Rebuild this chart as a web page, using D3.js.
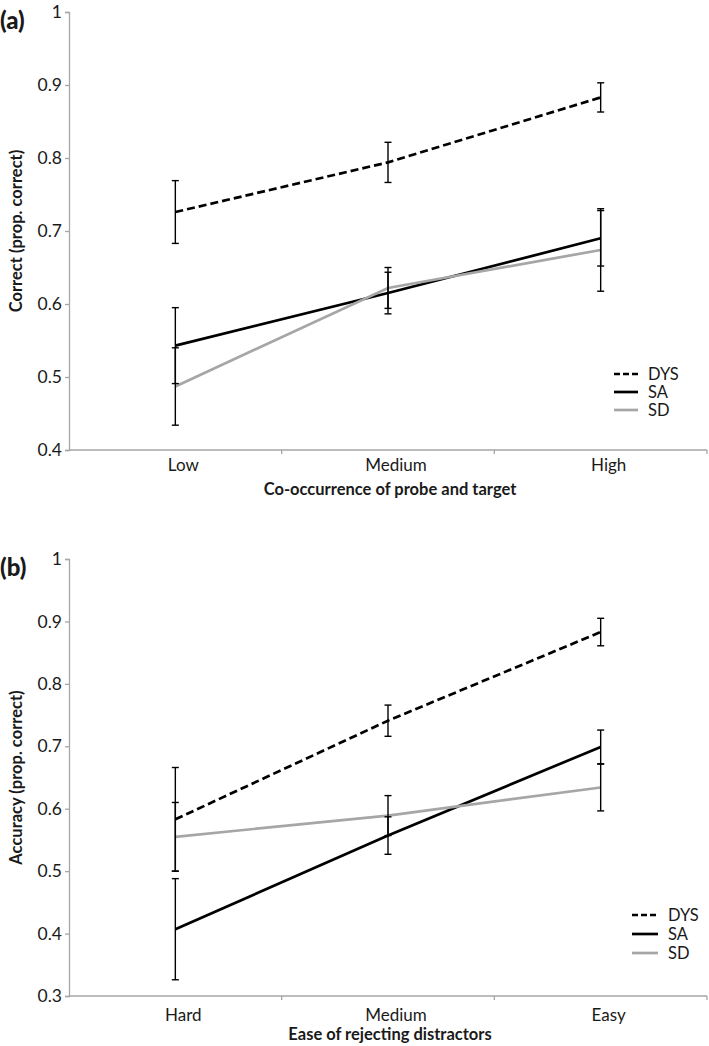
<!DOCTYPE html>
<html>
<head>
<meta charset="utf-8">
<script src="https://cdn.jsdelivr.net/npm/d3@7"></script>
<style>
  html, body { margin: 0; padding: 0; background: #fff; }
  svg { display: block; }
  text { font-family: Lato, "Open Sans", sans-serif; fill: #1a1a1a; }
</style>
</head>
<body>
<svg id="chart" width="709" height="1046"></svg>
<script>
// ---------- Panel (a) data ----------
const categoriesA = ["Low", "Medium", "High"];
const dysA = [0.726, 0.794, 0.883];
const dysErrA = [0.043, 0.0275, 0.020];
const saA = [0.543, 0.615, 0.690];
const saErrA = [0.052, 0.0285, 0.038];
const sdA = [0.487, 0.622, 0.674];
const sdErrA = [0.053, 0.028, 0.0565];
const yTicksA = [0.4, 0.5, 0.6, 0.7, 0.8, 0.9, 1];
const yTickLabelsA = ["0.4", "0.5", "0.6", "0.7", "0.8", "0.9", "1"];

// ---------- Panel (b) data ----------
const categoriesB = ["Hard", "Medium", "Easy"];
const dysB = [0.583, 0.741, 0.883];
const dysErrB = [0.083, 0.025, 0.022];
const saB = [0.407, 0.557, 0.699];
const saErrB = [0.081, 0.030, 0.027];
const sdB = [0.555, 0.589, 0.634];
const sdErrB = [0.055, 0.032, 0.0375];
const yTicksB = [0.3, 0.4, 0.5, 0.6, 0.7, 0.8, 0.9, 1];
const yTickLabelsB = ["0.3", "0.4", "0.5", "0.6", "0.7", "0.8", "0.9", "1"];

const seriesNames = ["DYS", "SA", "SD"];

const svg = d3.select("#chart");
const axisColor = "#a6a6a6";
const styles = {
  DYS: { color: "#000", dash: "8,4", width: 2.7 },
  SA:  { color: "#000", dash: null, width: 2.7 },
  SD:  { color: "#a6a6a6", dash: null, width: 2.7 }
};

function drawPanel(cfg) {
  const g = svg.append("g");
  const x = d3.scaleBand().domain(cfg.categories).range([69, 707]).padding(0);
  const y = d3.scaleLinear().domain(cfg.yDomain).range([cfg.bottom, cfg.top]);
  const cx = c => x(c) + x.bandwidth() / 2;

  // Y axis
  const yAxis = d3.axisLeft(y).tickValues(cfg.yTicks)
    .tickFormat((d, i) => cfg.yTickLabels[i]).tickSize(4).tickPadding(3);
  const ya = g.append("g").attr("transform", "translate(69,0)").call(yAxis);
  ya.select(".domain").attr("stroke", axisColor).attr("stroke-width", 1.3);
  ya.selectAll(".tick line").attr("stroke", axisColor).attr("stroke-width", 1.3);
  ya.selectAll(".tick text").attr("font-size", 17.5).attr("fill", "#1a1a1a")
    .attr("font-family", "Lato, 'Open Sans', sans-serif");

  // X axis (Excel style: ticks between categories)
  g.append("line").attr("x1", 69).attr("x2", 707)
    .attr("y1", cfg.bottom).attr("y2", cfg.bottom)
    .attr("stroke", axisColor).attr("stroke-width", 1.3);
  const tickPos = cfg.categories.map(c => x(c)).concat([x.range()[1]]).slice(1);
  g.selectAll(".xtick").data(tickPos).enter().append("line")
    .attr("x1", d => d).attr("x2", d => d)
    .attr("y1", cfg.bottom).attr("y2", cfg.bottom + 4)
    .attr("stroke", axisColor).attr("stroke-width", 1.3);
  g.selectAll(".xlab").data(cfg.categories).enter().append("text")
    .attr("x", d => cx(d) + 8).attr("y", cfg.labelY)
    .attr("text-anchor", "middle").attr("font-size", 17).text(d => d);

  // Axis titles
  g.append("text").attr("x", 390).attr("y", cfg.titleY)
    .attr("text-anchor", "middle").attr("font-size", 16.5).attr("font-weight", "bold")
    .text(cfg.xTitle);
  g.append("text")
    .attr("transform", `translate(22,${(cfg.top + cfg.bottom) / 2}) rotate(-90)`)
    .attr("text-anchor", "middle").attr("font-size", 16.5).attr("font-weight", "bold")
    .text(cfg.yTitle);

  // Panel label
  g.append("text").attr("x", 0).attr("y", cfg.top + 17)
    .attr("font-size", 24).attr("font-weight", 900).text(cfg.panelLabel);

  // Lines
  const line = d3.line().x(d => cx(d.c)).y(d => y(d.v));
  cfg.series.forEach(s => {
    const pts = cfg.categories.map((c, i) => ({ c: c, v: s.values[i], e: s.err[i] }));
    const st = styles[s.name];
    g.append("path").datum(pts).attr("d", line)
      .attr("fill", "none").attr("stroke", st.color)
      .attr("stroke-width", st.width).attr("stroke-dasharray", st.dash);
  });
  // Error bars
  cfg.series.forEach(s => {
    const pts = cfg.categories.map((c, i) => ({ c: c, v: s.values[i], e: s.err[i] }));
    const eb = g.append("g").attr("stroke", "#000").attr("stroke-width", 1.4);
    pts.forEach(p => {
      const xx = cx(p.c);
      eb.append("line").attr("x1", xx).attr("x2", xx)
        .attr("y1", y(p.v + p.e)).attr("y2", y(p.v - p.e));
      [p.v + p.e, p.v - p.e].forEach(v => {
        eb.append("line").attr("x1", xx - 3.5).attr("x2", xx + 3.5)
          .attr("y1", y(v)).attr("y2", y(v));
      });
    });
  });

  // Legend
  const lg = g.append("g");
  seriesNames.forEach((n, i) => {
    const st = styles[n];
    const ly = cfg.legend.y + i * cfg.legend.step;
    lg.append("line").attr("x1", cfg.legend.x).attr("x2", cfg.legend.x + cfg.legend.len)
      .attr("y1", ly).attr("y2", ly)
      .attr("stroke", st.color).attr("stroke-width", st.width)
      .attr("stroke-dasharray", st.dash ? "6,3" : null);
    lg.append("text").attr("x", cfg.legend.x + cfg.legend.len + 10).attr("y", ly + 6)
      .attr("font-size", 16.5).text(n);
  });
}

drawPanel({
  categories: categoriesA, yDomain: [0.4, 1], top: 12, bottom: 450,
  yTicks: yTicksA, yTickLabels: yTickLabelsA,
  labelY: 471, titleY: 495,
  xTitle: "Co-occurrence of probe and target",
  yTitle: "Correct (prop. correct)",
  panelLabel: "(a)",
  series: [
    { name: "DYS", values: dysA, err: dysErrA },
    { name: "SA", values: saA, err: saErrA },
    { name: "SD", values: sdA, err: sdErrA }
  ],
  legend: { x: 614, y: 374, step: 18, len: 24 }
});

drawPanel({
  categories: categoriesB, yDomain: [0.3, 1], top: 559, bottom: 996,
  yTicks: yTicksB, yTickLabels: yTickLabelsB,
  labelY: 1021, titleY: 1040,
  xTitle: "Ease of rejecting distractors",
  yTitle: "Accuracy (prop. correct)",
  panelLabel: "(b)",
  series: [
    { name: "DYS", values: dysB, err: dysErrB },
    { name: "SA", values: saB, err: saErrB },
    { name: "SD", values: sdB, err: sdErrB }
  ],
  legend: { x: 632, y: 915, step: 19, len: 26 }
});
</script>
</body>
</html>
